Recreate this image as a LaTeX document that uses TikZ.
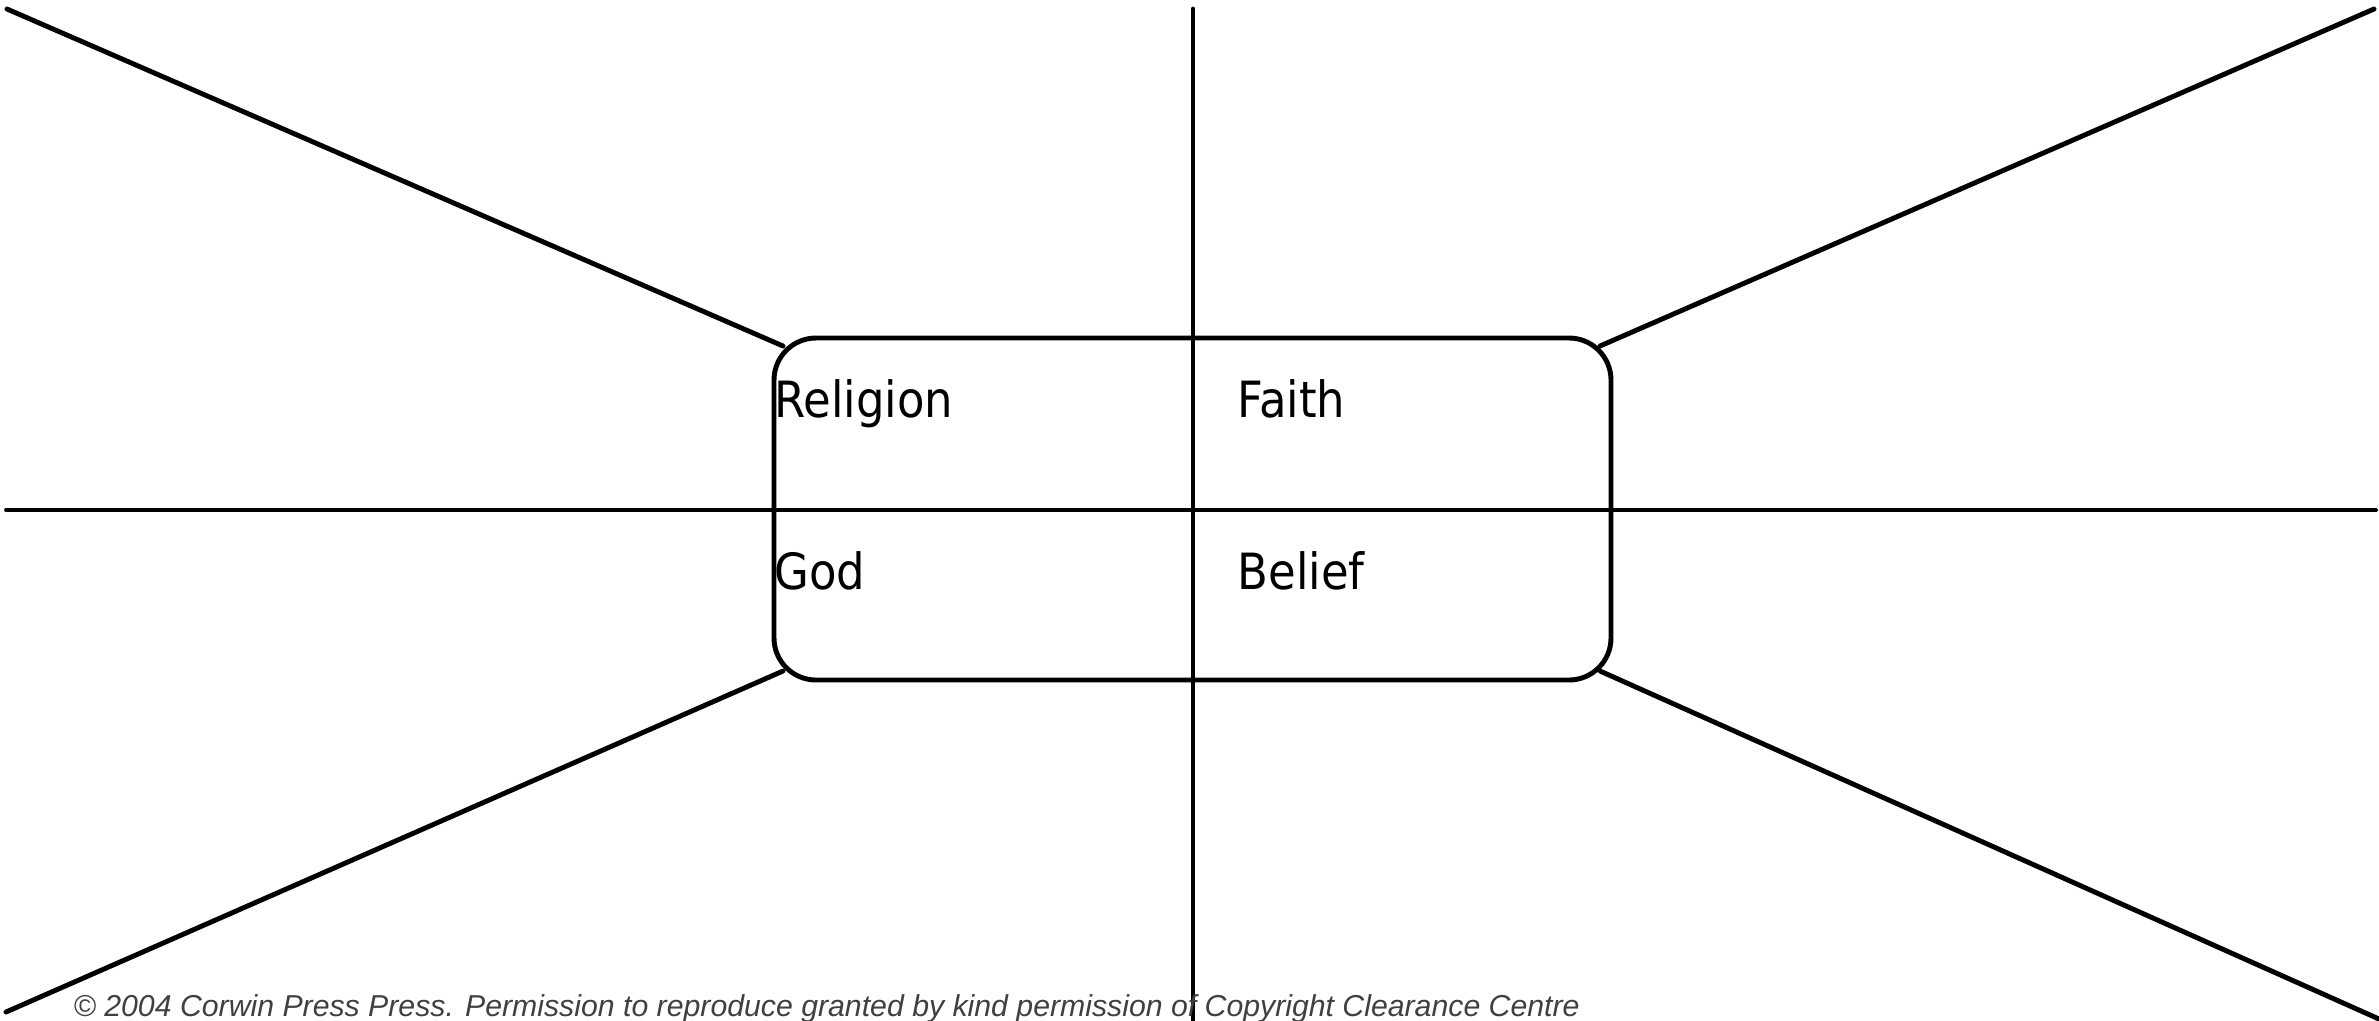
\documentclass[tikz,border=0pt]{standalone}
\usepackage{fontspec}
\newfontfamily\labelfont{DejaVu Sans Condensed}
\newfontfamily\notefont{Liberation Sans}
\tikzset{
  spoke/.style={line width=1.4pt},
  word/.style={anchor=base west,inner sep=0pt,font=\labelfont\fontsize{14.2}{16}\selectfont}
}

\begin{document}
\begin{tikzpicture}[x=0.01cm,y=-0.01cm,line cap=round]
\useasboundingbox (0,0) rectangle (2379,1020);
\clip (0,0) rectangle (2379,1020);
% centre box
\draw[spoke,rounded corners=0.42cm] (774,338) rectangle (1611,680);
\coordinate (tl) at (783,346);
\coordinate (tr) at (1600,346);
\coordinate (bl) at (783,671);
\coordinate (br) at (1600,671);
% cross
\draw[spoke] (1193,9) -- (1193,1020);
\draw[line width=1.1pt] (6,510) -- (2376,510);
% diagonals
\draw[spoke] (tl) -- (7,9);
\draw[spoke] (tr) -- (2374,9);
\draw[spoke] (bl) -- (6,1012);
\draw[spoke] (br) -- (2379,1019);
% labels
\node[word] (religion) at (774,417) {Religion};
\node[word] (faith) at (1237,417) {Faith};
\node[word] (god) at (774,589) {God};
\node[word] (belief) at (1237,589) {Belief};
\node[anchor=base west,inner sep=0pt,text=black!75,font=\notefont\itshape\fontsize{8.6}{10}\selectfont] (note) at (73,1016)
  {© 2004 Corwin Press Press. Permission to reproduce granted by kind permission of Copyright Clearance Centre};
\end{tikzpicture}
\end{document}
